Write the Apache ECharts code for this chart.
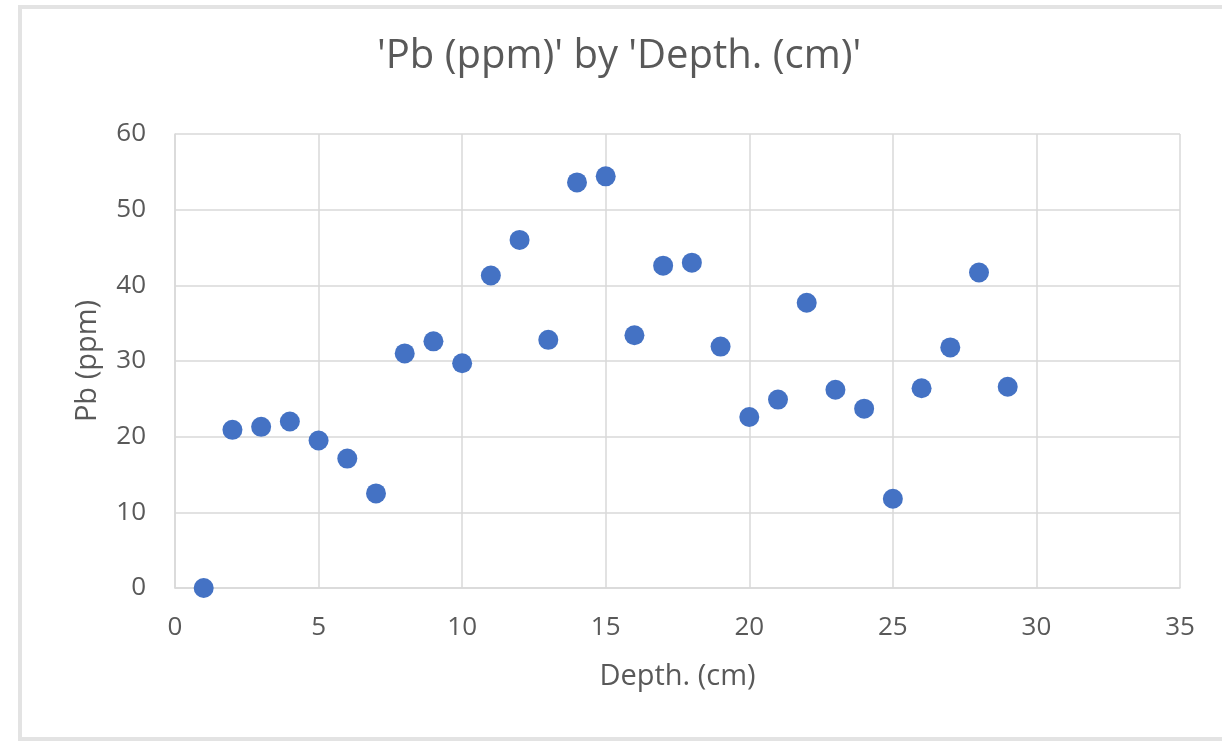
<!DOCTYPE html>
<html>
<head>
<meta charset="utf-8">
<script src="https://cdn.jsdelivr.net/npm/echarts@6/dist/echarts.min.js"></script>
<style>
html,body{margin:0;padding:0;background:#fff;}
#chart{width:1222px;height:741px;}
</style>
</head>
<body>
<div id="chart"></div>
<script>
const depth = [1,2,3,4,5,6,7,8,9,10,11,12,13,14,15,16,17,18,19,20,21,22,23,24,25,26,27,28,29];
const pb = [0,20.9,21.3,22.0,19.5,17.1,12.5,31.0,32.6,29.7,41.3,46.0,32.8,53.6,54.4,33.4,42.6,43.0,31.9,22.6,24.9,37.7,26.2,23.7,11.8,26.4,31.8,41.7,26.6];
const titleText = "'Pb (ppm)' by 'Depth. (cm)'";
const xName = "Depth. (cm)";
const yName = "Pb (ppm)";

const chart = echarts.init(document.getElementById('chart'), null, {renderer:'canvas'});
const font = '"Open Sans", sans-serif';
const txt = '#595959';
chart.setOption({
  animation:false,
  backgroundColor:'#fff',
  graphic:[{type:'rect', shape:{x:20,y:7,width:1212,height:732}, style:{fill:'none', stroke:'#e3e3e3', lineWidth:4}, silent:true}],
  title:{text:titleText, left:372, top:32, textStyle:{fontFamily:font, fontSize:40, fontWeight:'normal', color:txt}},
  grid:{left:175, right:42, top:134, bottom:153},
  xAxis:{type:'value', min:0, max:35, interval:5,
    name:xName, nameLocation:'middle', nameGap:74,
    nameTextStyle:{fontFamily:font, fontSize:29, color:txt},
    axisLine:{show:true, lineStyle:{color:'#d9d9d9', width:1.5}},
    axisTick:{show:false},
    axisLabel:{fontFamily:font, fontSize:26, color:txt, margin:27},
    splitLine:{show:true, lineStyle:{color:'#d9d9d9', width:1.5}}},
  yAxis:{type:'value', min:0, max:60, interval:10,
    name:yName, nameLocation:'middle', nameGap:73, nameRotate:90,
    nameTextStyle:{fontFamily:font, fontSize:29, color:txt},
    axisLine:{show:true, lineStyle:{color:'#d9d9d9', width:1.5}},
    axisTick:{show:false},
    axisLabel:{fontFamily:font, fontSize:26, color:txt, margin:29},
    splitLine:{show:true, lineStyle:{color:'#d9d9d9', width:1.5}}},
  series:[{type:'scatter', data:depth.map((d,i)=>[d,pb[i]]), symbolSize:20,
    itemStyle:{color:'#4472C4', opacity:1}}]
});
</script>
</body>
</html>
